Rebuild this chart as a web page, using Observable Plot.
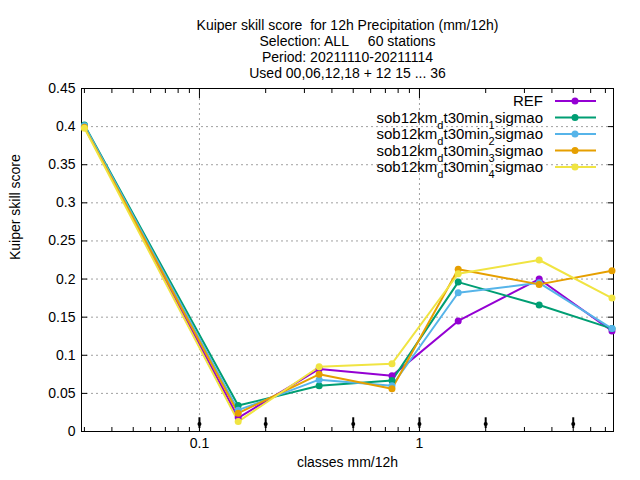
<!DOCTYPE html>
<html>
<head>
<meta charset="utf-8">
<script src="https://cdn.jsdelivr.net/npm/d3@7"></script>
<script src="https://cdn.jsdelivr.net/npm/@observablehq/plot@0.6"></script>
<style>
  body { margin: 0; background: #fff; }
  svg { font-family: "Liberation Sans", Arial, sans-serif; }
</style>
</head>
<body>
<div id="chart"></div>
<script>
// classes (mm/12h) and scores
const classes = [0.03, 0.15, 0.35, 0.75, 1.5, 3.5, 7.5]
const seriesNames = ['REF', 'sob12km_dt30min_1sigmao', 'sob12km_dt30min_2sigmao', 'sob12km_dt30min_3sigmao', 'sob12km_dt30min_4sigmao']
const ref = [0.400, 0.018, 0.082, 0.073, 0.145, 0.200, 0.132]
const s1 = [0.402, 0.034, 0.060, 0.067, 0.196, 0.166, 0.135]
const s2 = [0.401, 0.028, 0.068, 0.060, 0.182, 0.195, 0.135]
const s3 = [0.399, 0.024, 0.075, 0.056, 0.213, 0.193, 0.211]
const s4 = [0.398, 0.013, 0.085, 0.089, 0.207, 0.225, 0.175]
const bounds = [0.1, 0.2, 0.5, 1, 2, 5]
const colors = ['#9400d3', '#009e73', '#56b4e9', '#e69f00', '#f0e442']
const titleLines = ['Kuiper skill score  for 12h Precipitation (mm/12h)', 'Selection: ALL     60 stations', 'Period: 20211110-20211114', 'Used 00,06,12,18 + 12 15 ... 36']

const allSeries = [ref, s1, s2, s3, s4]
const data = allSeries.flatMap((vals, i) => vals.map((v, j) => ({ x: classes[j], y: v, s: seriesNames[i] })))
const minor = [0.03,0.04,0.05,0.06,0.07,0.08,0.09,0.2,0.3,0.4,0.5,0.6,0.7,0.8,0.9,2,3,4,5,6,7]
const yt = d3.range(0, 0.451, 0.05)
const fmt = d => d === 0 ? '0' : String(+d.toFixed(2))

const chart = Plot.plot({
  width: 640, height: 480,
  marginTop: 88, marginLeft: 81, marginRight: 27, marginBottom: 49,
  style: { fontSize: '14px', fontFamily: '"Liberation Sans", Arial, sans-serif', color: '#000' },
  x: { type: 'log', domain: [0.0291, 7.62], label: null },
  y: { domain: [0, 0.45], label: null },
  color: { domain: seriesNames, range: colors },
  marks: [
    Plot.gridY(yt, { stroke: '#a0a0a0', strokeOpacity: 1, strokeDasharray: '2,3' }),
    Plot.gridX([0.1, 1], { stroke: '#a0a0a0', strokeOpacity: 1, strokeDasharray: '2,3' }),
    Plot.axisY(yt, { tickSize: -6, tickPadding: 12, tickFormat: fmt, fontSize: 14 }),
    Plot.axisY(yt, { anchor: 'right', tickSize: -6, tickFormat: () => '' }),
    Plot.axisX([0.1, 1], { tickSize: -9, tickPadding: 16, tickFormat: d => String(d), fontSize: 14 }),
    Plot.axisX(minor, { tickSize: -4, tickFormat: () => '' }),
    Plot.axisX([0.1, 1], { anchor: 'top', tickSize: -9, tickFormat: () => '' }),
    Plot.axisX(minor, { anchor: 'top', tickSize: -4, tickFormat: () => '' }),
    Plot.frame({ stroke: '#000' }),
    Plot.ruleX(bounds, { y1: 0.004, y2: 0.018, stroke: '#000', strokeWidth: 2 }),
    Plot.dot(bounds, { x: d => d, y: 0.01, r: 2, fill: '#000' }),
    Plot.line(data, { x: 'x', y: 'y', z: 's', stroke: 's', strokeWidth: 2 }),
    Plot.dot(data, { x: 'x', y: 'y', fill: 's', r: 3.5 }),
    ...titleLines.map((line, i) => Plot.text([line], { frameAnchor: 'top', dy: -68 + i * 16, fontSize: 14 })),
    Plot.text(['Kuiper skill score'], { frameAnchor: 'left', dx: -66, rotate: -90, fontSize: 14 }),
    Plot.text(['classes mm/12h'], { frameAnchor: 'bottom', dy: 35, fontSize: 14 })
  ]
})

// gnuplot-style key in the top right, with subscripts
const svg = d3.select(chart)
const key = svg.append('g').attr('font-size', 15)
seriesNames.forEach((name, i) => {
  const y = 101 + i * 16.5
  const t = key.append('text').attr('x', 543).attr('y', y + 5).attr('text-anchor', 'end')
  name.split(/_(.)/).forEach((part, k) => {
    if (k % 2 === 1) t.append('tspan').attr('baseline-shift', 'sub').attr('font-size', 11).text(part)
    else t.append('tspan').text(part)
  })
  key.append('line').attr('x1', 555).attr('x2', 596).attr('y1', y).attr('y2', y).attr('stroke', colors[i]).attr('stroke-width', 2)
  key.append('circle').attr('cx', 575).attr('cy', y).attr('r', 3.5).attr('fill', colors[i])
})

d3.select('#chart').append(() => chart)
</script>
</body>
</html>
